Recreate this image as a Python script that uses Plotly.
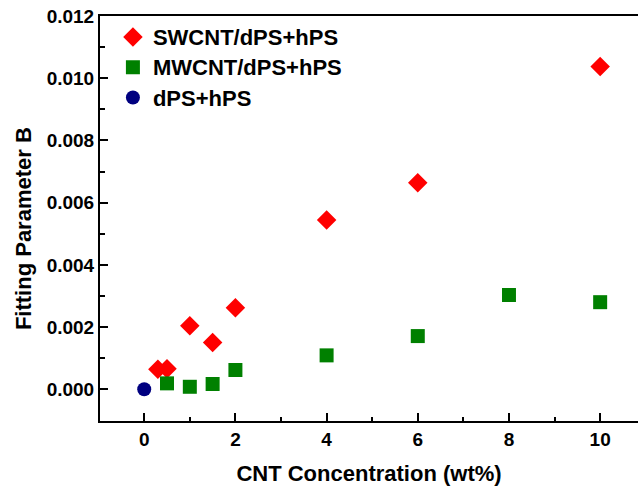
import plotly.graph_objects as go

sw_x = [0.3, 0.5, 1, 1.5, 2, 4, 6, 10]
sw_y = [0.00064, 0.00066, 0.00204, 0.0015, 0.00262, 0.00544, 0.00664, 0.01038]
mw_x = [0.5, 1, 1.5, 2, 4, 6, 8, 10]
mw_y = [0.00019, 0.00008, 0.00017, 0.00062, 0.00109, 0.00171, 0.00303, 0.0028]
ps_x = [0]
ps_y = [0.0]

FONT = "Liberation Sans, Arial, sans-serif"


def leg(t):
    return '<span style="font-size:22px"><b>' + t + "</b></span>"


fig = go.Figure()
fig.add_trace(go.Scatter(x=sw_x, y=sw_y, mode="markers", name=leg("SWCNT/dPS+hPS"),
                         marker=dict(symbol="diamond", size=15, color="#ff0000", line=dict(width=0))))
fig.add_trace(go.Scatter(x=mw_x, y=mw_y, mode="markers", name=leg("MWCNT/dPS+hPS"),
                         marker=dict(symbol="square", size=14, color="#008000", line=dict(width=0))))
fig.add_trace(go.Scatter(x=ps_x, y=ps_y, mode="markers", name=leg("dPS+hPS"),
                         marker=dict(symbol="circle", size=14, color="#000080", line=dict(width=0))))

fig.update_layout(
    width=638, height=489,
    margin=dict(l=100, r=0, t=16, b=68),
    plot_bgcolor="white", paper_bgcolor="white",
    font=dict(family=FONT, size=19, color="black"),
    legend=dict(x=0.024, y=0.998, xanchor="left", yanchor="top",
                bgcolor="rgba(0,0,0,0)", font=dict(size=21, family=FONT, color="black")),
    xaxis=dict(range=[-0.97, 10.83], tickvals=[0, 2, 4, 6, 8, 10],
               ticktext=["<b>0</b>", "<b>2</b>", "<b>4</b>", "<b>6</b>", "<b>8</b>", "<b>10</b>"],
               ticks="inside", ticklen=8, tickwidth=2, tickcolor="black",
               minor=dict(tickvals=[1, 3, 5, 7, 9], ticks="inside", ticklen=4, tickwidth=2, tickcolor="black"),
               showline=True, linecolor="black", linewidth=2, mirror=True,
               showgrid=False, zeroline=False,
               tickfont=dict(size=19, family=FONT, color="black"),
               title=dict(text="<b>CNT Concentration (wt%)</b>", standoff=17,
                          font=dict(size=22, family=FONT, color="black"))),
    yaxis=dict(range=[-0.00102, 0.012], tickvals=[0, 0.002, 0.004, 0.006, 0.008, 0.010, 0.012],
               ticktext=["<b>0.000</b>", "<b>0.002</b>", "<b>0.004</b>", "<b>0.006</b>",
                         "<b>0.008</b>", "<b>0.010</b>", "<b>0.012</b>"],
               ticks="inside", ticklen=8, tickwidth=2, tickcolor="black",
               minor=dict(tickvals=[0.001, 0.003, 0.005, 0.007, 0.009, 0.011], ticks="inside",
                          ticklen=5, tickwidth=2, tickcolor="black"),
               showline=True, linecolor="black", linewidth=2, mirror=False,
               showgrid=False, zeroline=False,
               tickfont=dict(size=19, family=FONT, color="black")),
    annotations=[dict(text="<b>Fitting Parameter B</b>", xref="paper", yref="paper",
                      x=-0.143, y=0.474, xanchor="center", yanchor="middle",
                      textangle=-90, showarrow=False,
                      font=dict(size=22, family=FONT, color="black"))],
)

fig.write_html("out.html")
